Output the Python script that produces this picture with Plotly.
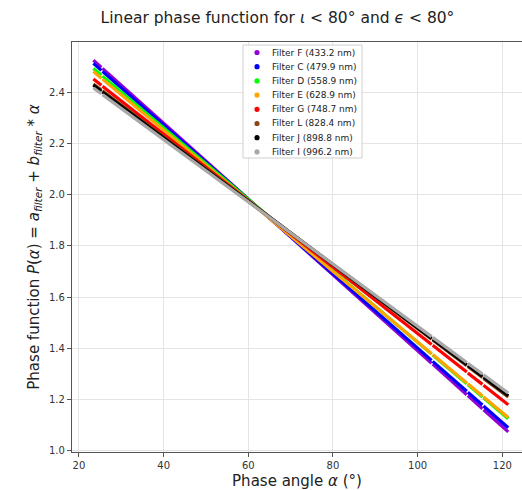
import plotly.graph_objects as go

# ---- data ----
filters = ["Filter F (433.2 nm)", "Filter C (479.9 nm)", "Filter D (558.9 nm)",
           "Filter E (628.9 nm)", "Filter G (748.7 nm)", "Filter L (828.4 nm)",
           "Filter J (898.8 nm)", "Filter I (996.2 nm)"]
colors = ["#9400D3", "#0000FF", "#00FF00", "#FFA500", "#FF0000", "#8B4513",
          "#000000", "#A9A9A9"]
a_filter = [2.870, 2.851, 2.818, 2.802, 2.754, 2.723, 2.716, 2.700]
b_filter = [-0.01479, -0.01450, -0.01394, -0.01377, -0.01296, -0.01246, -0.01236, -0.01214]
# phase-angle coverage of the observations (segments separated by small gaps)
alpha_segments = [(23.4, 25.3), (25.55, 103.3), (103.55, 111.6),
                  (111.85, 115.3), (115.55, 121.4)]
x_ticks = [20, 40, 60, 80, 100, 120]
y_ticks = [1.0, 1.2, 1.4, 1.6, 1.8, 2.0, 2.2, 2.4]

fig = go.Figure()
for name, col, a, b in zip(filters, colors, a_filter, b_filter):
    xs, ys = [], []
    for s, e in alpha_segments:
        xs += [s, e, None]
        ys += [a + b * s, a + b * e, None]
    fig.add_trace(go.Scatter(x=xs, y=ys, mode="lines", name=name,
                             line=dict(color=col, width=3.2), showlegend=False,
                             connectgaps=False))

# ---- custom legend (matplotlib style) ----
L, R, T = 72, 522, 42
B = 452
W, H = R - L, B - T
def px(xp): return (xp - L) / W
def py(yp): return (B - yp) / H

shapes = [dict(type="rect", xref="paper", yref="paper",
               x0=px(243), x1=px(362), y0=py(158), y1=py(45),
               line=dict(color="#d0d0d0", width=1), fillcolor="rgba(255,255,255,0.85)",
               layer="above")]
annotations = []
for i, (name, col) in enumerate(zip(filters, colors)):
    yc = 52.5 + i * 14.2
    r = 2.6
    shapes.append(dict(type="circle", xref="paper", yref="paper",
                       x0=px(257 - r), x1=px(257 + r), y0=py(yc + r), y1=py(yc - r),
                       fillcolor=col, line=dict(color=col, width=0), layer="above"))
    annotations.append(dict(xref="paper", yref="paper", x=px(270), y=py(yc),
                            text=name, showarrow=False, xanchor="left", yanchor="middle",
                            font=dict(size=9, color="#222", family="DejaVu Sans")))

fig.update_layout(
    width=522, height=490,
    margin=dict(l=L, r=0, t=T, b=490 - B),
    paper_bgcolor="white", plot_bgcolor="white",
    font=dict(family="DejaVu Sans", color="#222"),
    title=dict(text="Linear phase function for <i>ι</i> < 80° and <i>ϵ</i> < 80°",
               x=277.5 / 522, xref="container", xanchor="center",
               y=1 - 18 / 490, yref="container", yanchor="middle",
               font=dict(size=15.5, color="#222")),
    shapes=shapes, annotations=annotations,
    showlegend=False,
)
fig.update_xaxes(range=[18.35, 124.65], tickvals=x_ticks, ticktext=[str(v) for v in x_ticks],
                 showgrid=True, gridcolor="#e4e4e4", gridwidth=1, zeroline=False,
                 showline=True, linecolor="#555", linewidth=1.2, mirror=True,
                 ticks="outside", ticklen=4, tickcolor="#555",
                 tickfont=dict(size=10, color="#333"),
                 title=dict(text="Phase angle <i>α</i> (°)", font=dict(size=15, color="#222"), standoff=6))
fig.update_yaxes(range=[0.996, 2.595], tickvals=y_ticks, ticktext=[f"{v:.1f}" for v in y_ticks],
                 showgrid=True, gridcolor="#e4e4e4", gridwidth=1, zeroline=False,
                 showline=True, linecolor="#555", linewidth=1.2, mirror=False,
                 ticks="outside", ticklen=4, tickcolor="#555",
                 tickfont=dict(size=10, color="#333"),
                 title=dict(text="Phase function <i>P</i>(<i>α</i>) = <i>a</i><sub><i>filter</i></sub> + <i>b</i><sub><i>filter</i></sub> * <i>α</i>",
                            font=dict(size=15, color="#222"), standoff=5))

fig.write_html("out.html")
